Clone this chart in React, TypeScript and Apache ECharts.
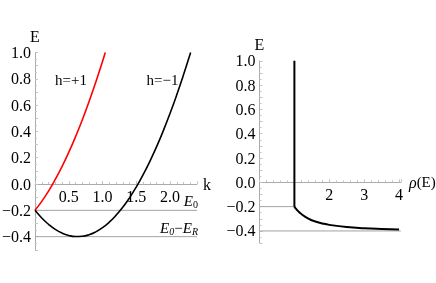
import { useEffect, useRef } from 'react';
import * as echarts from 'echarts';

// Left panel: dispersion E(k) for the two helicity branches
const kRed = [0, 0.1, 0.2, 0.3, 0.4, 0.5, 0.6, 0.7, 0.8, 0.9, 1.0, 1.041];
const eRed = [-0.2, -0.132, -0.054, 0.035, 0.133, 0.241, 0.359, 0.487, 0.626, 0.774, 0.932, 1.0];
const kBlack = [0, 0.1, 0.2, 0.3, 0.4, 0.5, 0.6, 0.7, 0.8, 0.9, 1.0, 1.1, 1.2, 1.3, 1.4, 1.5, 1.6, 1.7, 1.8, 1.9, 2.0, 2.1, 2.2, 2.3, 2.306];
const eBlack = [-0.2, -0.258, -0.306, -0.345, -0.373, -0.391, -0.399, -0.397, -0.386, -0.364, -0.332, -0.29, -0.238, -0.177, -0.105, -0.023, 0.069, 0.171, 0.282, 0.404, 0.536, 0.678, 0.83, 0.991, 1.0];

// Right panel: density of states rho(E)
const rhoStep = [1, 1];
const eStep = [-0.2, 1.0];
const rhoDos = [1, 1.02, 1.05, 1.1, 1.2, 1.4, 1.6, 1.8, 2.0, 2.5, 3.0, 3.5, 4.0];
const eDos = [-0.2, -0.208, -0.219, -0.235, -0.261, -0.298, -0.322, -0.338, -0.35, -0.368, -0.378, -0.384, -0.388];

// Reference energies
const levelE0 = -0.2;
const levelE0mER = -0.4;

// Tick labels
const eTicks = [-0.4, -0.2, 0.0, 0.2, 0.4, 0.6, 0.8, 1.0];
const kTicks = [0.5, 1.0, 1.5, 2.0];
const rhoTicks = [2, 3, 4];

const FONT = '"Liberation Serif", "DejaVu Serif", serif';

const zip = (xs: number[], ys: number[]) => xs.map((x, i) => [x, ys[i]]);
const has = (arr: number[], v: number) => arr.some((t) => Math.abs(t - v) < 1e-6);
const fmt1 = (v: number) => {
  const r = Math.round(v * 10) / 10;
  const s = Math.abs(r).toFixed(1);
  return r < 0 ? '\u2212' + s : s;
};

const axisLineStyle = { color: '#ababab', width: 1 };
const tickStyle = { color: '#c4c4c4', width: 1 };

// grid geometry
const G1 = { left: 35, top: 52.5, width: 162, height: 197.3 };
const G2 = { left: 259.5, top: 60.8, width: 141.3, height: 182.3 };
const Y_MIN = -0.5;
const Y_MAX = 1.0;

export default function App() {
  const ref = useRef<HTMLDivElement>(null);
  useEffect(() => {
    const chart = echarts.init(ref.current!, null, { renderer: 'svg' });
    const yAxisBase = (gridIndex: number, nameGap: number) => ({
      type: 'value',
      gridIndex,
      min: Y_MIN,
      max: Y_MAX,
      interval: 0.1,
      name: 'E',
      nameLocation: 'end',
      nameGap,
      nameTextStyle: { fontFamily: FONT, fontSize: 16, color: '#000' },
      axisLine: { show: true, onZero: false, lineStyle: axisLineStyle },
      axisTick: { show: true, inside: true, length: 3, lineStyle: tickStyle },
      minorTick: { show: true, splitNumber: 2, length: 2, lineStyle: tickStyle },
      splitLine: { show: false },
      axisLabel: {
        margin: 4,
        fontFamily: FONT,
        fontSize: 16,
        color: '#000',
        formatter: (v: number) => (has(eTicks, v) ? fmt1(v) : ''),
      },
    });
    // shift the x axes up so they sit on E = 0
    const off1 = -(G1.height * (0 - Y_MIN)) / (Y_MAX - Y_MIN);
    const off2 = -(G2.height * (0 - Y_MIN)) / (Y_MAX - Y_MIN);
    const option: any = {
      animation: false,
      grid: [
        { ...G1, containLabel: false, outerBoundsMode: 'none' },
        { ...G2, containLabel: false, outerBoundsMode: 'none' },
      ],
      xAxis: [
        {
          type: 'value',
          gridIndex: 0,
          position: 'bottom',
          offset: off1,
          min: 0,
          max: 2.4,
          interval: 0.5,
          name: 'k',
          nameLocation: 'end',
          nameGap: 6,
          nameTextStyle: { fontFamily: FONT, fontSize: 16, color: '#000', verticalAlign: 'middle' },
          axisLine: { show: true, onZero: false, lineStyle: axisLineStyle },
          axisTick: { show: true, inside: true, length: 3, lineStyle: tickStyle },
          minorTick: { show: true, splitNumber: 5, length: 2, lineStyle: tickStyle },
          splitLine: { show: false },
          axisLabel: {
            margin: 4,
            fontFamily: FONT,
            fontSize: 16,
            color: '#000',
            showMaxLabel: false,
            formatter: (v: number) => (has(kTicks, v) ? v.toFixed(1) : ''),
          },
        },
        {
          type: 'value',
          gridIndex: 1,
          position: 'bottom',
          offset: off2,
          min: 0,
          max: 4.05,
          interval: 1,
          name: '{i|\u03c1}(E)',
          nameLocation: 'end',
          nameGap: 2,
          nameTextStyle: {
            fontFamily: FONT,
            fontSize: 15,
            color: '#000',
            verticalAlign: 'middle',
            rich: { i: { fontFamily: FONT, fontSize: 16, fontStyle: 'italic', color: '#000' } },
          },
          axisLine: { show: true, onZero: false, lineStyle: axisLineStyle },
          axisTick: { show: true, inside: true, length: 3, lineStyle: tickStyle },
          minorTick: { show: true, splitNumber: 5, length: 2, lineStyle: tickStyle },
          splitLine: { show: false },
          axisLabel: {
            margin: 4,
            fontFamily: FONT,
            fontSize: 16,
            color: '#000',
            showMaxLabel: true,
            formatter: (v: number) => (has(rhoTicks, v) ? String(Math.round(v)) : ''),
          },
        },
      ],
      yAxis: [yAxisBase(0, 0), yAxisBase(1, 4)],
      series: [
        {
          type: 'line', xAxisIndex: 0, yAxisIndex: 0, silent: true, symbol: 'none', z: 1,
          lineStyle: { color: '#a3a3a3', width: 1 },
          data: [[0, levelE0], [2.4, levelE0]],
        },
        {
          type: 'line', xAxisIndex: 0, yAxisIndex: 0, silent: true, symbol: 'none', z: 1,
          lineStyle: { color: '#a3a3a3', width: 1 },
          data: [[0, levelE0mER], [2.4, levelE0mER]],
        },
        {
          name: 'h=+1', type: 'line', xAxisIndex: 0, yAxisIndex: 0, symbol: 'none', smooth: true, z: 3,
          lineStyle: { color: '#ff0000', width: 1.6 },
          data: zip(kRed, eRed),
        },
        {
          name: 'h=-1', type: 'line', xAxisIndex: 0, yAxisIndex: 0, symbol: 'none', smooth: true, z: 3,
          lineStyle: { color: '#000', width: 1.6 },
          data: zip(kBlack, eBlack),
        },
        {
          type: 'line', xAxisIndex: 1, yAxisIndex: 1, silent: true, symbol: 'none', z: 1,
          lineStyle: { color: '#a3a3a3', width: 1 },
          data: [[0, levelE0], [1, levelE0]],
        },
        {
          type: 'line', xAxisIndex: 1, yAxisIndex: 1, silent: true, symbol: 'none', z: 1,
          lineStyle: { color: '#a3a3a3', width: 1 },
          data: [[0, levelE0mER], [4.05, levelE0mER]],
        },
        {
          type: 'line', xAxisIndex: 1, yAxisIndex: 1, symbol: 'none', z: 3,
          lineStyle: { color: '#000', width: 2 },
          data: zip(rhoStep, eStep),
        },
        {
          type: 'line', xAxisIndex: 1, yAxisIndex: 1, symbol: 'none', smooth: true, z: 3,
          lineStyle: { color: '#000', width: 2 },
          data: zip(rhoDos, eDos),
        },
      ],
      graphic: [
        {
          type: 'text', x: 55, y: 80,
          style: { text: 'h=+1', font: `15px ${FONT}`, fill: '#000', verticalAlign: 'middle', align: 'left' },
        },
        {
          type: 'text', x: 146.5, y: 80,
          style: { text: 'h=\u22121', font: `15px ${FONT}`, fill: '#000', verticalAlign: 'middle', align: 'left' },
        },
        {
          type: 'text', x: 198, y: 200.5,
          style: {
            text: '{i|E}{s|0}',
            align: 'right',
            verticalAlign: 'middle',
            rich: {
              i: { fontFamily: FONT, fontSize: 15, fontStyle: 'italic', fill: '#000', lineHeight: 18 },
              s: { fontFamily: FONT, fontSize: 10, fill: '#000', lineHeight: 10, verticalAlign: 'bottom' },
            },
          },
        },
        {
          type: 'text', x: 198, y: 227.5,
          style: {
            text: '{i|E}{s|0}{m|\u2212}{i|E}{s|R}',
            align: 'right',
            verticalAlign: 'middle',
            rich: {
              i: { fontFamily: FONT, fontSize: 15, fontStyle: 'italic', fill: '#000', lineHeight: 18 },
              m: { fontFamily: FONT, fontSize: 15, fill: '#000', lineHeight: 18 },
              s: { fontFamily: FONT, fontSize: 10, fontStyle: 'italic', fill: '#000', lineHeight: 10, verticalAlign: 'bottom' },
            },
          },
        },
      ],
    };
    chart.setOption(option);
    return () => chart.dispose();
  }, []);
  return <div ref={ref} style={{ position: 'fixed', left: 0, top: 0, width: 436, height: 283 }} />;
}
